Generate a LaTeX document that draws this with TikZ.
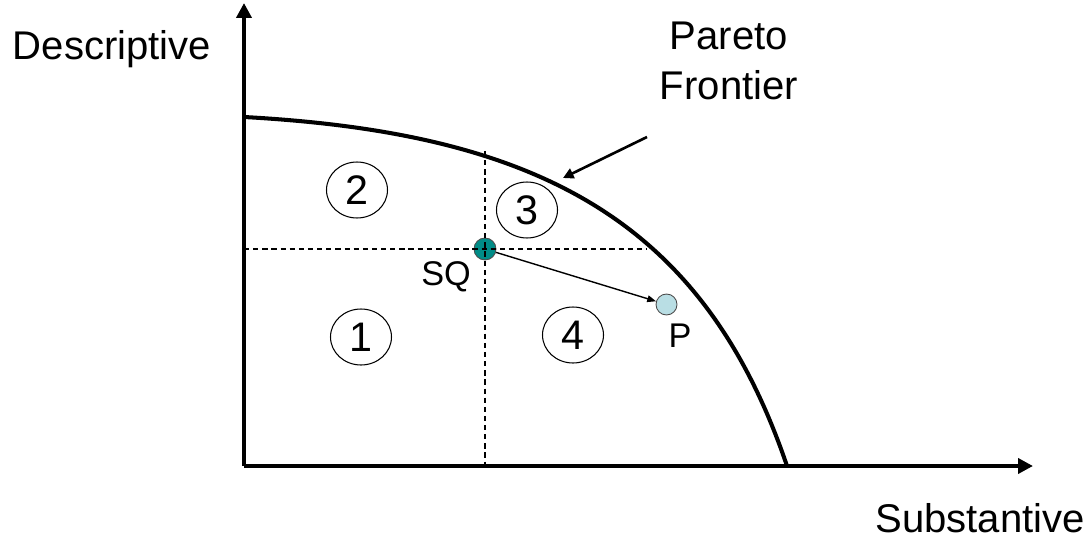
\documentclass[tikz,border=0pt]{standalone}
\usepackage{fontspec}
\setmainfont{Liberation Sans}
\usepackage{xcolor}
\usetikzlibrary{arrows.meta,positioning,shapes.geometric}
\definecolor{sqteal}{RGB}{0,140,135}
\definecolor{plight}{RGB}{185,222,228}
\tikzstyle{axis}=[-{Triangle[length=8.5pt,width=8.5pt]}, line width=2.6pt]
\tikzstyle{region}=[ellipse, draw, line width=0.6pt, minimum width=1.22cm, minimum height=1.12cm,
  inner sep=0pt, font=\fontsize{23.5}{27}\selectfont]
\tikzstyle{guide}=[dash pattern=on 3pt off 2.2pt, line width=0.6pt]

\begin{document}
\begin{tikzpicture}[x=0.02cm, y=-0.02cm,
  big/.style={inner sep=0pt, anchor=base, font=\fontsize{22.8}{28.5}\selectfont},
  small/.style={inner sep=0pt, anchor=base, font=\fontsize{19.5}{23}\selectfont},
  dot/.style={circle, inner sep=0pt, draw=black!70, line width=0.5pt}]
\useasboundingbox (0,0) rectangle (1089,544);
% axes
\coordinate (o) at (244,466);
\coordinate (ytop) at (244,3);
\coordinate (xend) at (1033,466);
\draw[axis] (o) -- (ytop);
\draw[axis] (o) -- (xend);
\node[big] (ylab) at (112,60) {Descriptive};
\node[big] (xlab) at (980,532) {Substantive};
% frontier
\coordinate (f0) at (244,117);
\coordinate (f1) at (787,466);
\draw[line width=2.3pt] (f0) .. controls (535,133) and (703,218) .. (f1);
\coordinate (hit) at (563,178);
\node[big, align=center, anchor=base] (pf) at (729,100) {Pareto\\Frontier};
\draw[-{Triangle[length=6pt,width=6pt]}, line width=1.5pt] (647,137) -- (hit);
% regions
\node[region] (r2) at (357,190) {2};
\node[region] (r3) at (527,210) {3};
\node[region] (r1) at (361,337) {1};
\node[region] (r4) at (573,335) {4};
% status quo and proposal
\node[dot, fill=sqteal, minimum size=0.44cm] (sq) at (485,249) {};
\node[dot, fill=plight, minimum size=0.42cm] (p) at (666.5,304.5) {};
\draw[guide] (244,249) -- (647,249);
\draw[guide] (485,151) -- (485,466);
\draw[-{Triangle[length=5pt,width=3.8pt]}, line width=0.8pt] (sq) -- (p);
\node[small] (sqlab) at (446,285) {SQ};
\node[small] (plab) at (680,347) {P};
\end{tikzpicture}
\end{document}
